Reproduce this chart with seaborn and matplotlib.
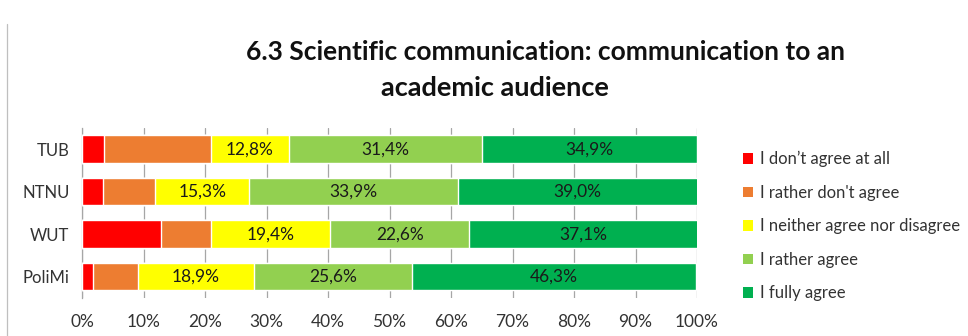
import numpy as np
import pandas as pd
import matplotlib
matplotlib.use("Agg")
import matplotlib.pyplot as plt
from matplotlib.patches import Patch
from matplotlib.lines import Line2D
import seaborn as sns

# Survey answers per university (share of respondents, %)
universities = ["TUB", "NTNU", "WUT", "PoliMi"]
answers = [
    "I don\u2019t agree at all",
    "I rather don't agree",
    "I neither agree nor disagree",
    "I rather agree",
    "I fully agree",
]
dont_agree_at_all = [3.5, 3.4, 12.9, 1.8]
rather_dont_agree = [17.4, 8.5, 8.1, 7.3]
neither = [12.8, 15.3, 19.4, 18.9]
rather_agree = [31.4, 33.9, 22.6, 25.6]
fully_agree = [34.9, 39.0, 37.1, 46.3]
labelled = [False, False, True, True, True]

colors = ["#FF0000", "#ED7D31", "#FFFF00", "#92D050", "#00B050"]

series = [dont_agree_at_all, rather_dont_agree, neither, rather_agree, fully_agree]
values = np.array(series)
cumulative = np.cumsum(values, axis=0)

sns.set_theme(style="white")
plt.rcParams["font.family"] = ["Lato", "DejaVu Sans"]

fig = plt.figure(figsize=(9.68, 3.36), dpi=100)
ax = fig.add_axes([82 / 968, 1 - 297.8 / 336, 615 / 968, (297.8 - 128.0) / 336])

# Stacked bars: draw the running totals from the outermost segment inward
for i in range(len(series) - 1, -1, -1):
    df = pd.DataFrame({"university": universities, "total": cumulative[i]})
    sns.barplot(data=df, y="university", x="total", color=colors[i],
                saturation=1, width=0.65, orient="h", ax=ax, zorder=3)

# Value labels centred inside the segments
for i in range(len(series)):
    if not labelled[i]:
        continue
    for j, uni in enumerate(universities):
        start = cumulative[i][j] - values[i][j]
        centre = start + values[i][j] / 2
        ax.text(centre, j, f"{values[i][j]:.1f}%".replace(".", ","),
                ha="center", va="center", fontsize=12.5, color="#1a1a1a",
                zorder=5)

ax.set_xlim(0, 100)
ax.set_ylim(len(universities) - 0.5, -0.5)
ax.set_xticks(np.arange(0, 101, 10))
ax.set_xticklabels([f"{t}%" for t in range(0, 101, 10)])
ax.set_xlabel("")
ax.set_ylabel("")
ax.xaxis.grid(True, color="#a6a6a6", linewidth=0.9, zorder=0)
ax.yaxis.grid(False)
ax.set_axisbelow(True)
for side in ["top", "right", "bottom"]:
    ax.spines[side].set_visible(False)
ax.spines["left"].set_color("#a6a6a6")
ax.spines["left"].set_linewidth(0.9)
ax.tick_params(axis="x", length=0, pad=12, labelsize=12.5, colors="#333333")
ax.tick_params(axis="y", length=0, pad=9, labelsize=12, colors="#333333")

fig.text(545 / 968, 1 - 52 / 336, "6.3 Scientific communication: communication to an",
         ha="center", va="center", fontsize=19, fontweight="bold", color="#111111")
fig.text(495 / 968, 1 - 88 / 336, "academic audience",
         ha="center", va="center", fontsize=19.5, fontweight="bold", color="#111111")

handles = [Patch(facecolor=c, edgecolor="none") for c in colors]
fig.legend(handles, answers, loc="upper left", bbox_to_anchor=(743 / 968, 1 - 151 / 336),
           frameon=False, fontsize=12, handlelength=0.6, handleheight=0.6,
           handletextpad=0.4, labelspacing=1.05, borderaxespad=0, borderpad=0,
           labelcolor="#333333")

# Chart-area border on the left edge
fig.add_artist(Line2D([7 / 968, 7 / 968], [0, 1 - 24 / 336],
                      transform=fig.transFigure, color="#bfbfbf", linewidth=0.9))

fig.savefig("out.png", dpi=100)
